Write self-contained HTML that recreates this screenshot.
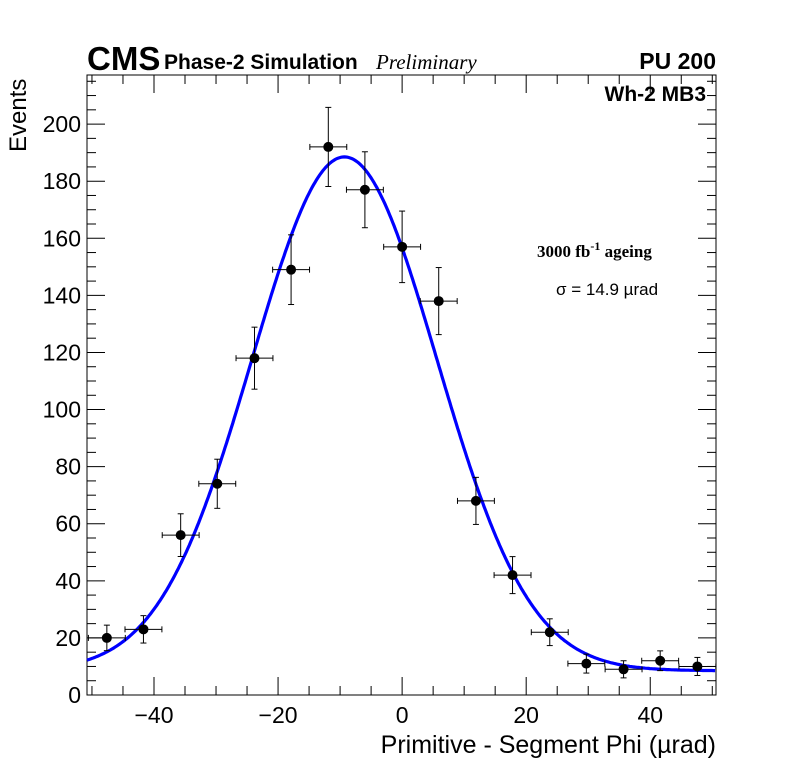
<!DOCTYPE html>
<html><head><meta charset="utf-8">
<style>
body{margin:0;background:#fff;}
svg text{font-family:"Liberation Sans",Arial,sans-serif;}
</style></head>
<body>
<svg id="chart" width="796" height="772" xmlns="http://www.w3.org/2000/svg">
<rect width="796" height="772" fill="#fff"/>
<g id="axes"></g>
<g id="marks"></g>
<text x="87" y="70" font-size="33" font-weight="bold">CMS</text>
<text x="164" y="69" font-size="21" font-weight="bold">Phase-2 Simulation</text>
<text x="376" y="69" font-size="21" font-style="italic" style="font-family:'Liberation Serif',serif">Preliminary</text>
<text x="716" y="69" font-size="23" font-weight="bold" text-anchor="end">PU 200</text>
<text x="706" y="101" font-size="21" font-weight="bold" text-anchor="end">Wh-2 MB3</text>
<text x="537" y="257" font-size="17" font-weight="bold" style="font-family:'Liberation Serif',serif">3000 fb<tspan dy="-7" font-size="12">-1</tspan><tspan dy="7"> ageing</tspan></text>
<text x="556" y="295" font-size="17">σ = 14.9 µrad</text>
<text x="716" y="753" font-size="25" text-anchor="end">Primitive - Segment Phi (µrad)</text>
<text transform="translate(26,152) rotate(-90)" font-size="24">Events</text>
</svg>
<script>
const binCenters=[-47.6,-41.7,-35.7,-29.8,-23.8,-17.9,-11.9,-6.0,0,5.9,11.9,17.8,23.8,29.7,35.7,41.6,47.6];
const counts=[20,23,56,74,118,149,192,177,157,138,68,42,22,11,9,12,10];
const xTicks=[-40,-20,0,20,40];
const yTicks=[0,20,40,60,80,100,120,140,160,180,200];
const fitParams=[180,-9.3,14.9,8.5]; // amplitude, mean, sigma, constant
const binWidth=5.95;
const X0=87,X1=716,Y0=695,Y1=75,xmin=-50.8,xmax=50.6,ymin=0,ymax=217.2;
const sx=v=>X0+(v-xmin)/(xmax-xmin)*(X1-X0);
const sy=v=>Y0-(v-ymin)/(ymax-ymin)*(Y0-Y1);
const NS="http://www.w3.org/2000/svg";
function mk(t,a,p){const e=document.createElementNS(NS,t);for(const k in a)e.setAttribute(k,a[k]);p.appendChild(e);return e;}
const ax=document.getElementById('axes'),mg=document.getElementById('marks');
const frame=mk('rect',{x:X0,y:Y1,width:X1-X0,height:Y0-Y1,fill:'none',stroke:'#000','stroke-width':1},ax);


for(let v=-50;v<=50;v+=5){const major=v%20===0;const L=major?18:9;
 mk('line',{x1:sx(v),x2:sx(v),y1:Y0,y2:Y0-L,stroke:'#000'},ax);
 mk('line',{x1:sx(v),x2:sx(v),y1:Y1,y2:Y1+L,stroke:'#000'},ax);}
xTicks.forEach(v=>{const t=mk('text',{x:sx(v),y:Y0+28,'font-size':23,'text-anchor':'middle'},ax);t.textContent=v<0?'\u2212'+Math.abs(v):v;
 
 });
for(let v=0;v<=215;v+=5){const major=v%20===0;const L=major?18:9;
 mk('line',{x1:X0,x2:X0+L,y1:sy(v),y2:sy(v),stroke:'#000'},ax);
 mk('line',{x1:X1,x2:X1-L,y1:sy(v),y2:sy(v),stroke:'#000'},ax);}
yTicks.forEach(v=>{const t=mk('text',{x:X0-6,y:sy(v)+8,'font-size':23,'text-anchor':'end'},ax);t.textContent=v;
 
 });
const f=x=>fitParams[0]*Math.exp(-Math.pow(x-fitParams[1],2)/(2*fitParams[2]*fitParams[2]))+fitParams[3];
let d='';for(let x=xmin;x<=xmax;x+=0.25){d+=(d?'L':'M')+sx(x).toFixed(1)+','+sy(f(x)).toFixed(1);}
const fit=mk('path',{d:d,fill:'none',stroke:'#0000ff','stroke-width':3.2},mg);


binCenters.forEach((c,i)=>{const n=counts[i],e=Math.sqrt(n);
 const g=mk('g',{},mg);
 
 
 mk('line',{x1:sx(c-binWidth/2),x2:sx(c+binWidth/2),y1:sy(n),y2:sy(n),stroke:'#000'},g);
 mk('line',{x1:sx(c),x2:sx(c),y1:sy(n-e),y2:sy(n+e),stroke:'#000'},g);
 [c-binWidth/2,c+binWidth/2].forEach(xx=>mk('line',{x1:sx(xx),x2:sx(xx),y1:sy(n)-3,y2:sy(n)+3,stroke:'#000'},g));
 [n-e,n+e].forEach(yy=>mk('line',{x1:sx(c)-3,x2:sx(c)+3,y1:sy(yy),y2:sy(yy),stroke:'#000'},g));
 mk('circle',{cx:sx(c),cy:sy(n),r:5,fill:'#000'},g);});
</script>
</body></html>
